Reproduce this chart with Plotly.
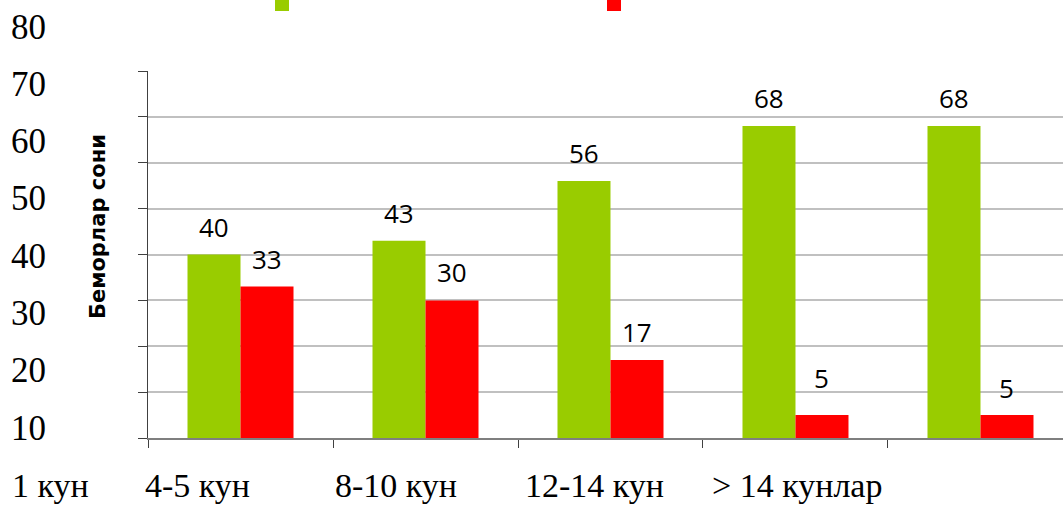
import plotly.graph_objects as go

# ---- data ----
categories = ["1 кун", "4-5 кун", "8-10 кун", "12-14 кун", "> 14 кунлар"]
green_values = [40, 43, 56, 68, 68]
red_values = [33, 30, 17, 5, 5]
left_tick_labels = ["80", "70", "60", "50", "40", "30", "20", "10"]
bottom_labels = ["1 кун", "4-5 кун", "8-10 кун", "12-14 кун", "> 14 кунлар"]
y_title = "Беморлар сони"

# ---- layout geometry (pixels) ----
W, H = 1063, 506
L, R, T, B = 148, 0, 71, 68
PW, PH = W - L - R, H - T - B


def px_x(x):
    return (x - L) / PW


def px_y(y):
    return (H - B - y) / PH


GREEN = "#99CC00"
RED = "#FF0000"

fig = go.Figure()
fig.add_trace(go.Bar(x=categories, y=green_values, marker=dict(color=GREEN, line=dict(width=0)),
                     name="green", showlegend=False))
fig.add_trace(go.Bar(x=categories, y=red_values, marker=dict(color=RED, line=dict(width=0)),
                     name="red", showlegend=False))

annotations = []
label_font = dict(family="Open Sans, DejaVu Sans, sans-serif", size=26, color="black")
red_shift = [28, 28, 28, 37, 27]
for i, c in enumerate(categories):
    annotations.append(dict(x=c, y=green_values[i], xref="x", yref="y", text=str(green_values[i]),
                            showarrow=False, xshift=-26.5, yshift=28, yanchor="middle",
                            font=label_font))
    annotations.append(dict(x=c, y=red_values[i], xref="x", yref="y", text=str(red_values[i]),
                            showarrow=False, xshift=26.5, yshift=red_shift[i], yanchor="middle",
                            font=label_font))

serif = dict(family="Liberation Serif, Times New Roman, serif", size=35, color="black")
for i, t in enumerate(left_tick_labels):
    annotations.append(dict(x=px_x(29), y=px_y(27 + i * 57.3), xref="paper", yref="paper",
                            text=t, showarrow=False, xanchor="center", yanchor="middle", font=serif))

serif_b = dict(family="Liberation Serif, Times New Roman, serif", size=34, color="black")
bottom_left = [10, 143, 333, 523, 710]
for i, t in enumerate(bottom_labels):
    annotations.append(dict(x=px_x(bottom_left[i]), y=px_y(506), xref="paper", yref="paper",
                            text=t, showarrow=False, xanchor="left", yanchor="bottom", font=serif_b))

annotations.append(dict(x=px_x(98), y=px_y(227), xref="paper", yref="paper", text="<b>" + y_title + "</b>",
                        textangle=-90, showarrow=False, xanchor="center", yanchor="middle",
                        font=dict(family="DejaVu Sans, Open Sans, sans-serif", size=21, color="black")))

shapes = [
    dict(type="rect", xref="paper", yref="paper", x0=px_x(275), x1=px_x(289), y0=px_y(11), y1=px_y(-2),
         fillcolor=GREEN, line=dict(width=0)),
    dict(type="rect", xref="paper", yref="paper", x0=px_x(607), x1=px_x(621), y0=px_y(11), y1=px_y(-2),
         fillcolor=RED, line=dict(width=0)),
]

fig.update_layout(
    width=W, height=H,
    margin=dict(l=L, r=R, t=T, b=B, pad=0),
    paper_bgcolor="white", plot_bgcolor="white",
    barmode="group", bargap=0.427, bargroupgap=0,
    showlegend=False,
    annotations=annotations,
    shapes=shapes,
    xaxis=dict(type="category", range=[-0.5, 4.446], showticklabels=False,
               tickson="boundaries", ticks="outside", ticklen=8, tickcolor="#404040", tickwidth=1,
               showline=True, linecolor="#7f7f7f", linewidth=2, showgrid=False, zeroline=False,
               fixedrange=True),
    yaxis=dict(range=[0, 80], dtick=10, showticklabels=False, ticks="outside", ticklen=9,
               tickcolor="#404040", tickwidth=1, showline=True, linecolor="#404040", linewidth=1,
               showgrid=True, gridcolor="#c0c0c0", gridwidth=2, zeroline=False),
)

fig.write_html("out.html")
